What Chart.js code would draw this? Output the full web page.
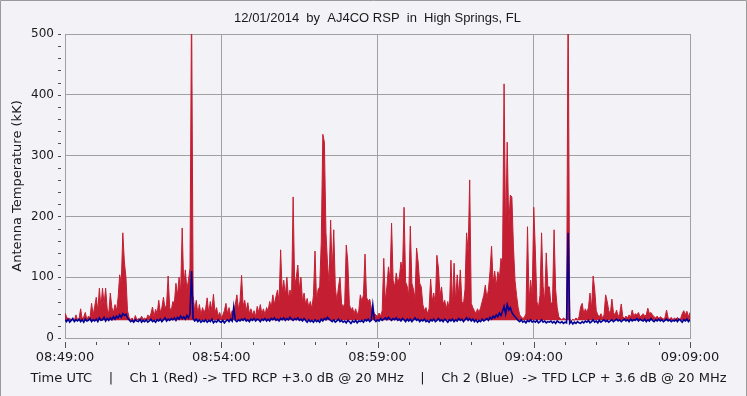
<!DOCTYPE html>
<html>
<head>
<meta charset="utf-8">
<script src="https://cdn.jsdelivr.net/npm/chart.js@4/dist/chart.umd.min.js"></script>
<style>
  html, body { margin: 0; padding: 0; background: #F3F3F7; }
  #wrap { position: relative; width: 747px; height: 396px; }
  canvas { display: block; }
</style>
</head>
<body>
<div id="wrap"><canvas id="c" width="747" height="396"></canvas></div>
<script>
// ---- data (seconds after 08:49:00, one sample every 3 s) ----
const sampleStepSeconds = 3;

const ch1Red = [
  41,35,30,33,28,31,29,38,30,32,
  48,31,35,42,30,36,33,57,38,52,
  67,45,82,50,82,55,82,48,40,74,
  50,42,55,45,67,104,90,173,125,100,
  45,34,30,33,28,37,30,32,29,36,
  31,33,30,38,34,40,51,36,47,40,
  62,42,50,67,48,55,102,50,45,60,
  58,90,70,100,75,181,85,112,80,95,
  115,560,70,45,62,40,55,38,50,42,
  48,66,40,60,45,72,42,50,36,42,
  33,38,45,57,40,50,36,45,40,55,
  71,48,60,103,52,62,45,58,40,48,
  38,45,35,52,42,55,40,48,38,50,
  45,60,50,71,55,68,79,60,145,75,
  95,70,100,65,79,68,232,85,100,120,
  80,100,60,74,55,65,50,60,48,70,
  143,60,80,84,158,335,322,174,123,90,
  194,110,178,84,60,84,100,57,50,57,
  153,125,55,46,50,40,48,38,45,71,
  60,71,138,67,60,64,50,45,40,38,
  35,41,36,45,131,60,84,117,95,189,
  95,84,107,90,100,125,109,215,92,85,
  70,184,90,80,65,148,125,90,84,55,
  45,50,40,48,97,60,74,55,136,115,
  70,84,55,62,48,60,45,128,55,123,
  60,104,70,112,60,55,80,173,140,260,
  57,50,45,40,48,42,50,60,70,87,
  65,80,109,151,90,110,85,109,98,131,
  120,418,166,322,183,235,232,150,95,70,
  50,38,35,32,34,40,183,60,95,70,
  215,145,60,50,70,173,85,60,140,84,
  84,55,60,178,80,50,35,32,30,33,
  31,30,560,32,28,31,29,33,30,35,
  51,57,40,48,42,50,74,48,102,80,
  45,38,35,40,33,38,71,60,45,40,
  64,42,38,46,35,40,56,35,32,36,
  33,38,34,46,36,40,38,42,35,37,
  40,36,38,49,40,42,38,35,33,36,
  32,35,33,31,34,46,33,31,34,30,
  33,31,34,30,32,40,45,38,44,35,42
];

const ch2Blue = [
  30,27,31,26,29,32,27,30,28,31,
  27,30,26,31,28,29,32,27,30,28,
  31,27,33,29,30,34,28,32,29,33,
  30,35,31,36,33,38,34,40,37,39,
  33,30,27,29,26,30,28,27,31,26,
  29,27,30,26,28,31,27,29,26,30,
  28,31,27,30,33,28,31,29,32,30,
  33,29,34,31,36,32,35,31,37,33,
  40,110,32,28,31,27,30,26,29,27,
  30,26,29,27,31,25,28,26,30,27,
  26,29,25,28,30,27,31,28,51,29,
  27,30,28,31,29,32,28,30,27,31,
  29,32,28,31,30,27,31,29,32,28,
  31,28,32,30,33,29,31,28,32,30,
  33,29,32,30,34,31,29,32,30,33,
  29,31,28,32,29,26,30,27,29,26,
  30,27,29,26,31,28,32,30,34,31,
  29,27,30,26,28,31,27,29,26,28,
  25,29,27,24,28,26,29,25,28,27,
  29,26,30,28,31,27,29,54,30,27,
  30,28,32,29,31,33,30,34,31,29,
  32,30,33,29,31,28,32,30,27,31,
  28,31,27,30,33,29,31,27,30,28,
  31,27,29,26,30,28,31,27,29,32,
  28,30,27,31,29,26,30,28,31,27,
  30,28,32,29,31,27,30,33,29,32,
  28,31,27,30,26,29,27,31,28,30,
  32,29,34,31,36,33,38,35,41,37,
  44,52,40,55,46,50,42,38,35,32,
  29,27,30,26,28,25,29,27,30,26,
  28,26,29,25,27,30,26,28,25,27,
  26,28,25,27,24,28,26,25,27,24,
  26,25,173,24,27,23,26,24,27,25,
  24,27,25,28,26,29,25,27,30,26,
  28,25,29,26,28,30,27,29,26,28,
  30,27,29,31,28,30,27,29,31,28,
  30,27,31,28,30,29,32,28,31,29,
  28,31,27,30,28,32,29,27,30,28,
  31,28,30,27,29,31,28,30,27,29,
  28,30,27,31,29,26,30,28,31,27,30
];

const xTickSeconds = [0, 300, 600, 900, 1200];
const xTickLabels = ['08:49:00', '08:54:00', '08:59:00', '09:04:00', '09:09:00'];
const yTickValues = [0, 100, 200, 300, 400, 500];

const titleText = '12/01/2014  by  AJ4CO RSP  in  High Springs, FL';
const xTitleText = 'Time UTC    |    Ch 1 (Red) -> TFD RCP +3.0 dB @ 20 MHz    |    Ch 2 (Blue)  -> TFD LCP + 3.6 dB @ 20 MHz';
const yTitleText = 'Antenna Temperature (kK)';

// ---- build chart ----
const toPoints = arr => arr.map((v, i) => ({ x: i * sampleStepSeconds, y: v }));

const decorations = {
  id: 'decorations',
  afterDraw(chart) {
    const ctx = chart.ctx;
    const xs = chart.scales.x, ys = chart.scales.y;
    const ca = chart.chartArea;
    ctx.save();
    ctx.fillStyle = '#1a1a1a';
    ctx.textAlign = 'center';
    ctx.textBaseline = 'middle';
    // title centred over the plot area
    ctx.font = '13px "Liberation Sans"';
    ctx.fillText(titleText, (ca.left + ca.right) / 2, 18);
    // x axis caption line
    ctx.font = '13px "DejaVu Sans"';
    ctx.fillText(xTitleText, 378.5, 379);
    // small tick marks
    ctx.strokeStyle = '#505050';
    ctx.lineWidth = 1;
    ctx.beginPath();
    for (let v = 0; v <= 500; v += 20) {
      const y = Math.round(ys.getPixelForValue(v)) + 0.5;
      ctx.moveTo(58, y); ctx.lineTo(61, y);
    }
    for (let t = 0; t <= 1200; t += 60) {
      const x = Math.round(xs.getPixelForValue(t)) + 0.5;
      const major = xTickSeconds.includes(t);
      ctx.moveTo(x, ca.bottom + 4);
      ctx.lineTo(x, ca.bottom + (major ? 10 : 7));
    }
    ctx.stroke();
    // outer frame
    ctx.strokeStyle = '#9a9a9a';
    ctx.beginPath();
    ctx.moveTo(0.5, 396); ctx.lineTo(0.5, 0.5); ctx.lineTo(746.5, 0.5); ctx.lineTo(746.5, 396);
    ctx.stroke();
    ctx.restore();
  }
};

new Chart(document.getElementById('c'), {
  type: 'line',
  data: {
    datasets: [
      { label: 'Ch 1 (Red)', data: toPoints(ch1Red), borderColor: '#C41E32', backgroundColor: '#C41E32',
        fill: { value: 29 }, borderWidth: 1, pointRadius: 0, tension: 0, order: 1 },
      { label: 'Ch 2 (Blue)', data: toPoints(ch2Blue), borderColor: '#000096', borderWidth: 1.6,
        fill: false, pointRadius: 0, tension: 0, order: 0 }
    ]
  },
  options: {
    responsive: false,
    animation: false,
    events: [],
    layout: { padding: { left: 0, right: 57, top: 34, bottom: 0 } },
    plugins: {
      legend: { display: false },
      tooltip: { enabled: false },
      title: { display: false }
    },
    scales: {
      x: {
        type: 'linear', min: 0, max: 1200,
        afterFit(s) { s.height = 58; },
        afterBuildTicks(s) { s.ticks = xTickSeconds.map(v => ({ value: v })); },
        ticks: {
          autoSkip: false, maxRotation: 0, padding: 12, color: '#1a1a1a',
          font: { family: 'DejaVu Sans', size: 13 },
          callback: (v) => xTickLabels[xTickSeconds.indexOf(v)]
        },
        grid: { color: '#a0a0a0', lineWidth: 1, drawTicks: false },
        border: { display: true, color: '#a0a0a0' },
        title: { display: false }
      },
      y: {
        type: 'linear', min: 0, max: 500,
        afterFit(s) { s.width = 65; },
        afterBuildTicks(s) { s.ticks = yTickValues.map(v => ({ value: v })); },
        ticks: {
          padding: 11, color: '#1a1a1a',
          font: { family: 'DejaVu Sans', size: 12 }
        },
        grid: { color: '#a0a0a0', lineWidth: 1, drawTicks: false },
        border: { display: true, color: '#a0a0a0' },
        title: {
          display: true, text: yTitleText, color: '#1a1a1a',
          font: { family: 'DejaVu Sans', size: 13 },
          padding: { top: 10, bottom: 0 }
        }
      }
    }
  },
  plugins: [decorations]
});
</script>
</body>
</html>
